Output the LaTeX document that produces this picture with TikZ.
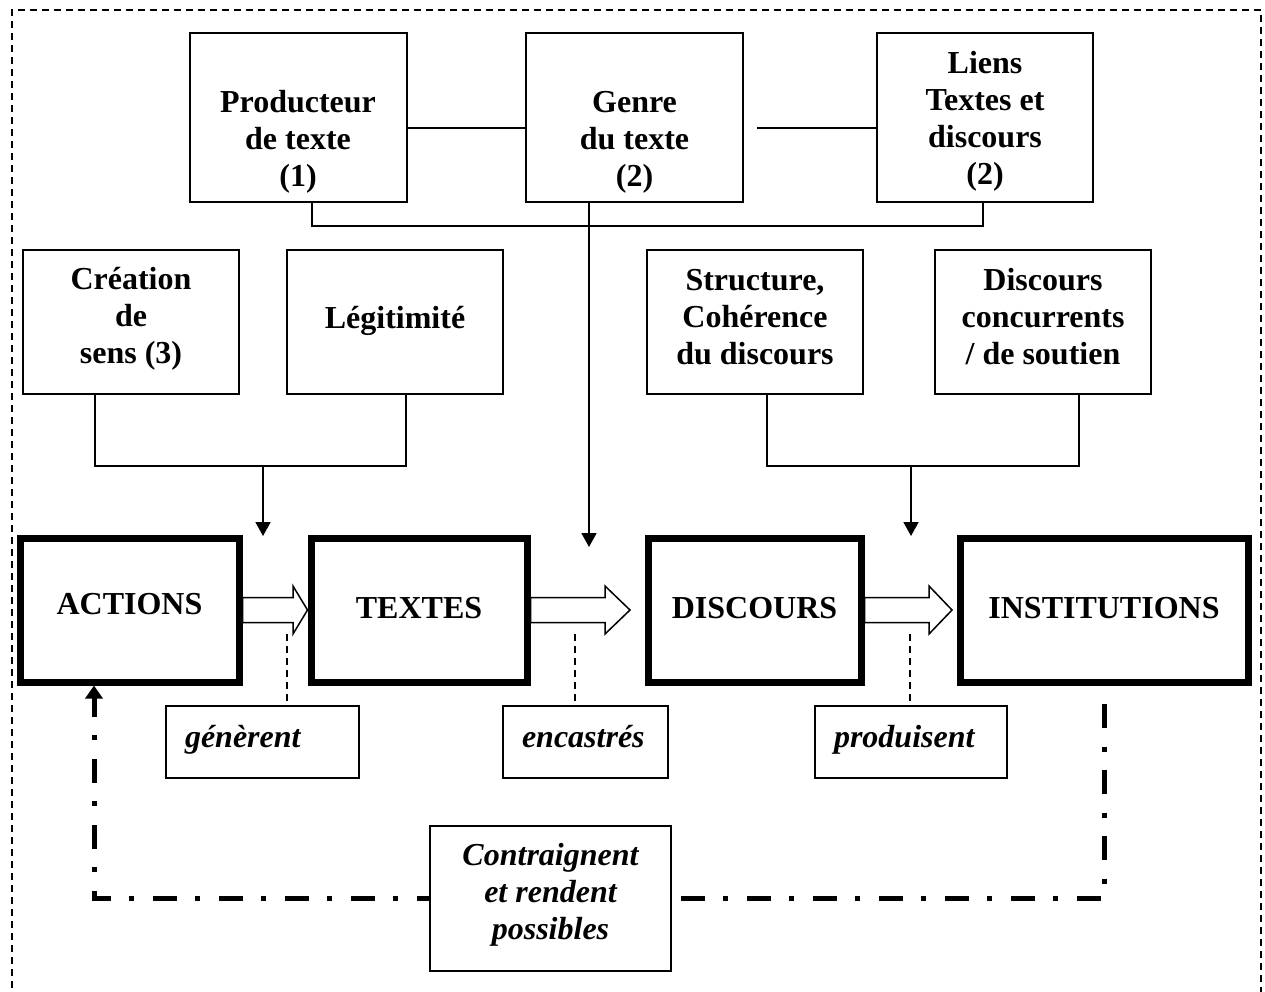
\documentclass[tikz,border=0pt]{standalone}
\usepackage{fontspec}
\setmainfont{Liberation Serif}
\usetikzlibrary{arrows.meta,calc}
% line strut: every text line gets the same height and depth
\newcommand\lstrut{\rule[-10pt]{0pt}{37pt}}
\newcommand\tstrut{\rule[-14pt]{0pt}{38pt}}

\begin{document}
\begin{tikzpicture}[x=1pt,y=-1pt,
  every node/.style={font=\bfseries\fontsize{32}{37}\selectfont},
  thinbox/.style={draw, line width=1.8pt, inner sep=0pt, fill=white},
  mainbox/.style={draw, line width=7pt, inner sep=0pt, fill=white},
  txt/.style={align=center, inner sep=0pt},
  tagbox/.style={thinbox, font=\bfseries\itshape\fontsize{32}{37}\selectfont,
                 align=left, inner xsep=19pt, inner ysep=0pt, minimum height=72pt},
  link/.style={line width=1.8pt},
  down/.style={link, -{Triangle[width=15pt,length=14pt]}},
  barrow/.style={draw, fill=white, line width=1.5pt, line join=miter},
  leader/.style={line width=1.5pt, dash pattern=on 7pt off 5pt},
  loopline/.style={line width=5pt, dash pattern=on 24pt off 19pt on 5pt off 18pt,
                   dash phase=48pt},
  outerframe/.style={line width=1.3pt, dash pattern=on 7pt off 5pt}]

\useasboundingbox (0,0) rectangle (1265,991);

% dashed outer frame
\draw[outerframe] (12,1000) -- (12,10) -- (1261,10) -- (1261,1000);

% ---- top row ----
\node[thinbox, minimum width=217pt, minimum height=169pt] (prod)  at (298.5,117.5) {};
\node[thinbox, minimum width=217pt, minimum height=169pt] (genre) at (634.5,117.5) {};
\node[thinbox, minimum width=216pt, minimum height=169pt] (liens) at (985,117.5) {};
\node[txt] (prodT)  at (298,140.5)  {\lstrut Producteur\\\lstrut de texte\\\lstrut (1)};
\node[txt] (genreT) at (634.5,140.5) {\lstrut Genre\\\lstrut du texte\\\lstrut (2)};
\node[txt] (liensT) at (985,120.3)  {\lstrut Liens\\\lstrut Textes et\\\lstrut discours\\\lstrut (2)};

\coordinate (ytop) at (0,128);
\coordinate (gl)   at (757,128);
\coordinate (bus)  at (0,226);
\coordinate (px)   at (312,0);
\coordinate (lx)   at (983,0);
\coordinate (gtip) at (589,547);
\draw[link] (prod.east |- ytop) -- (genre.west |- ytop);
\draw[link] (gl) -- (liens.west |- gl);
\draw[link] (prod.south -| px) |- (bus -| lx) -- (liens.south -| lx);
\draw[down] (genre.south -| gtip) -- (gtip);

% ---- second row ----
\node[thinbox, minimum width=216pt, minimum height=144pt] (crea)   at (131,322) {};
\node[thinbox, minimum width=216pt, minimum height=144pt] (legit)  at (395,322) {};
\node[thinbox, minimum width=216pt, minimum height=144pt] (struct) at (755,322) {};
\node[thinbox, minimum width=216pt, minimum height=144pt] (conc)   at (1043,322) {};
\node[txt] (creaT)   at (131,318)   {\lstrut Création\\\lstrut de\\\lstrut sens (3)};
\node[txt] (legitT)  at (395,320)   {\lstrut Légitimité};
\node[txt] (structT) at (755,318.5) {\lstrut Structure,\\\lstrut Cohérence\\\lstrut du discours};
\node[txt] (concT)   at (1043,318.5) {\lstrut Discours\\\lstrut concurrents\\\lstrut / de soutien};

\coordinate (c95)   at (95,466);
\coordinate (c406)  at (406,466);
\coordinate (c263)  at (263,466);
\coordinate (t263)  at (263,536);
\coordinate (c767)  at (767,466);
\coordinate (c1079) at (1079,466);
\coordinate (c911)  at (911,466);
\coordinate (t911)  at (911,536);
\draw[link] (crea.south -| c95) -- (c95) -- (c406) -- (legit.south -| c406);
\draw[down] (c263) -- (t263);
\draw[link] (struct.south -| c767) -- (c767) -- (c1079) -- (conc.south -| c1079);
\draw[down] (c911) -- (t911);

% ---- main chain ----
\node[mainbox, minimum width=219pt, minimum height=144pt] (actions)  at (129.5,610) {\lstrut\raisebox{4pt}{ACTIONS}};
\node[mainbox, minimum width=216pt, minimum height=144pt] (textes)   at (419,610)   {\lstrut TEXTES};
\node[mainbox, minimum width=213pt, minimum height=144pt] (discours) at (754.5,610) {\lstrut DISCOURS};
\node[mainbox, minimum width=288pt, minimum height=144pt] (instit)   at (1104,610)  {\lstrut INSTITUTIONS};

% block arrows between the main boxes
\coordinate (tip2) at (630,610);
\coordinate (tip3) at (952,610);
\draw[barrow] ($(actions.east)+(0,-12.5)$) -- (293,597.5) -- (293,586) -- (textes.west)
  -- (293,634) -- (293,622.5) -- ($(actions.east)+(0,12.5)$) -- cycle;
\draw[barrow] ($(textes.east)+(0,-12.5)$) -- (605,597.5) -- (605,586) -- (tip2)
  -- (605,634) -- (605,622.5) -- ($(textes.east)+(0,12.5)$) -- cycle;
\draw[barrow] ($(discours.east)+(0,-12.5)$) -- (929,597.5) -- (929,586) -- (tip3)
  -- (929,634) -- (929,622.5) -- ($(discours.east)+(0,12.5)$) -- cycle;

% ---- verb labels ----
\node[tagbox, text width=155pt] (gen) at (262.5,742) {\tstrut génèrent};
\node[tagbox, text width=127pt] (enc) at (585.5,742) {\tstrut encastrés};
\node[tagbox, text width=154pt] (prd) at (911,742)   {\tstrut produisent};
\coordinate (l1) at (287,634);
\coordinate (l2) at (575,634);
\coordinate (l3) at (910,634);
\draw[leader] (l1) -- (gen.north -| l1);
\draw[leader] (l2) -- (enc.north -| l2);
\draw[leader] (l3) -- (prd.north -| l3);

% ---- feedback loop ----
\coordinate (lbl) at (94,898);
\draw[loopline, -{Triangle[width=17pt,length=13pt]}]
  (instit.south) |- (lbl) -- (actions.south -| lbl);
\node[thinbox, minimum width=241pt, minimum height=145pt] (contr) at (550.5,898.5) {};
\node[txt, font=\bfseries\itshape\fontsize{32}{37}\selectfont] (contrT) at (550.5,893.5)
  {\lstrut Contraignent\\\lstrut et rendent\\\lstrut possibles};

\end{tikzpicture}
\end{document}
